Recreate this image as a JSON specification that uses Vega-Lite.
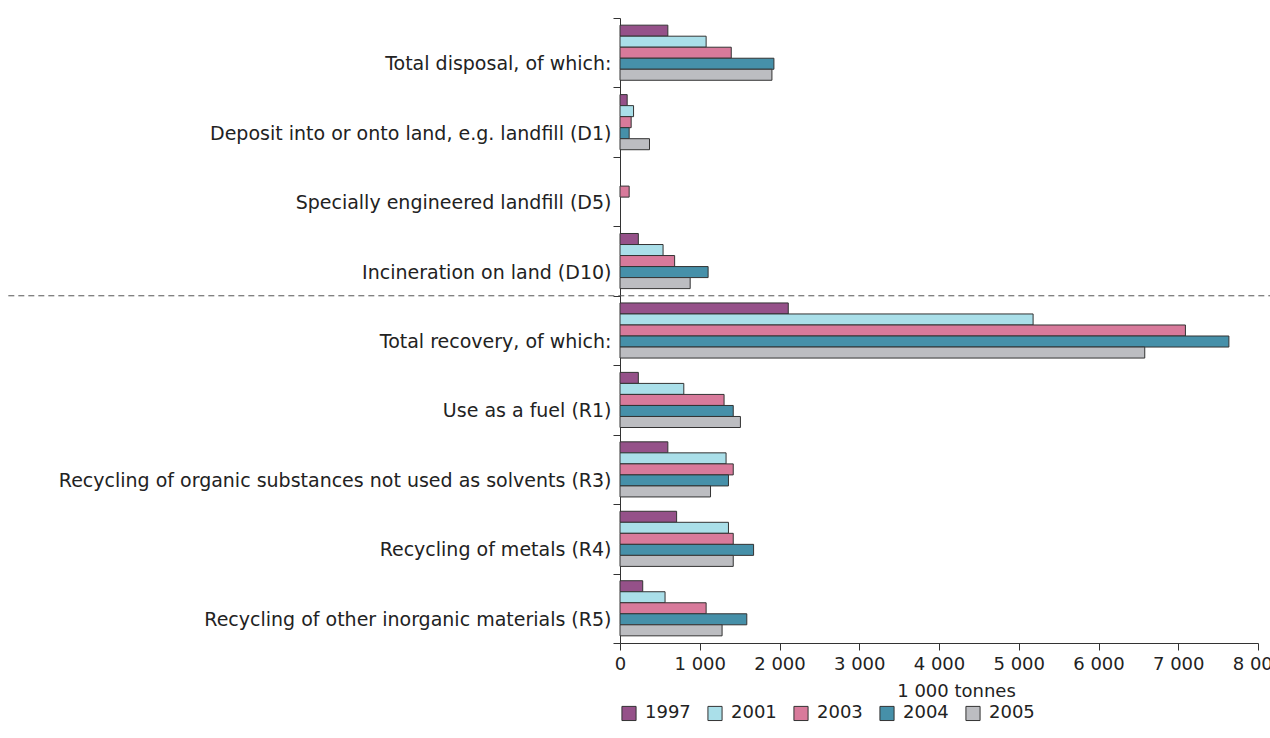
{
  "$schema": "https://vega.github.io/schema/vega-lite/v6.json",
  "width": 638,
  "height": 625,
  "autosize": {"type": "none"},
  "padding": {"left": 620, "top": 18, "right": 12, "bottom": 95},
  "background": "white",
  "config": {
    "font": "DejaVu Sans",
    "view": {"stroke": null},
    "axis": {"grid": false, "domainColor": "#333", "tickColor": "#333", "labelColor": "#222", "titleColor": "#222", "labelFontSize": 18, "titleFontSize": 18, "titleFontWeight": "normal"}
  },
  "datasets": {
    "main": [
      {"category": "Total disposal, of which:", "year": "1997", "value": 600},
      {"category": "Total disposal, of which:", "year": "2001", "value": 1080},
      {"category": "Total disposal, of which:", "year": "2003", "value": 1395},
      {"category": "Total disposal, of which:", "year": "2004", "value": 1930},
      {"category": "Total disposal, of which:", "year": "2005", "value": 1905},
      {"category": "Deposit into or onto land, e.g. landfill (D1)", "year": "1997", "value": 90},
      {"category": "Deposit into or onto land, e.g. landfill (D1)", "year": "2001", "value": 170},
      {"category": "Deposit into or onto land, e.g. landfill (D1)", "year": "2003", "value": 140},
      {"category": "Deposit into or onto land, e.g. landfill (D1)", "year": "2004", "value": 115},
      {"category": "Deposit into or onto land, e.g. landfill (D1)", "year": "2005", "value": 370},
      {"category": "Specially engineered landfill (D5)", "year": "2003", "value": 115},
      {"category": "Incineration on land (D10)", "year": "1997", "value": 230},
      {"category": "Incineration on land (D10)", "year": "2001", "value": 540},
      {"category": "Incineration on land (D10)", "year": "2003", "value": 685},
      {"category": "Incineration on land (D10)", "year": "2004", "value": 1105},
      {"category": "Incineration on land (D10)", "year": "2005", "value": 880},
      {"category": "Total recovery, of which:", "year": "1997", "value": 2110},
      {"category": "Total recovery, of which:", "year": "2001", "value": 5180},
      {"category": "Total recovery, of which:", "year": "2003", "value": 7090},
      {"category": "Total recovery, of which:", "year": "2004", "value": 7635},
      {"category": "Total recovery, of which:", "year": "2005", "value": 6580},
      {"category": "Use as a fuel (R1)", "year": "1997", "value": 230},
      {"category": "Use as a fuel (R1)", "year": "2001", "value": 800},
      {"category": "Use as a fuel (R1)", "year": "2003", "value": 1305},
      {"category": "Use as a fuel (R1)", "year": "2004", "value": 1420},
      {"category": "Use as a fuel (R1)", "year": "2005", "value": 1510},
      {"category": "Recycling of organic substances not used as solvents (R3)", "year": "1997", "value": 600},
      {"category": "Recycling of organic substances not used as solvents (R3)", "year": "2001", "value": 1330},
      {"category": "Recycling of organic substances not used as solvents (R3)", "year": "2003", "value": 1420},
      {"category": "Recycling of organic substances not used as solvents (R3)", "year": "2004", "value": 1360},
      {"category": "Recycling of organic substances not used as solvents (R3)", "year": "2005", "value": 1135},
      {"category": "Recycling of metals (R4)", "year": "1997", "value": 710},
      {"category": "Recycling of metals (R4)", "year": "2001", "value": 1360},
      {"category": "Recycling of metals (R4)", "year": "2003", "value": 1420},
      {"category": "Recycling of metals (R4)", "year": "2004", "value": 1675},
      {"category": "Recycling of metals (R4)", "year": "2005", "value": 1420},
      {"category": "Recycling of other inorganic materials (R5)", "year": "1997", "value": 285},
      {"category": "Recycling of other inorganic materials (R5)", "year": "2001", "value": 565},
      {"category": "Recycling of other inorganic materials (R5)", "year": "2003", "value": 1080},
      {"category": "Recycling of other inorganic materials (R5)", "year": "2004", "value": 1590},
      {"category": "Recycling of other inorganic materials (R5)", "year": "2005", "value": 1280}
    ]
  },
  "layer": [
    {
      "data": {"name": "main"},
      "mark": {"type": "bar", "stroke": "#333", "strokeWidth": 1},
      "encoding": {
        "y": {
          "field": "category", "type": "nominal",
          "sort": ["Total disposal, of which:", "Deposit into or onto land, e.g. landfill (D1)", "Specially engineered landfill (D5)", "Incineration on land (D10)", "Total recovery, of which:", "Use as a fuel (R1)", "Recycling of organic substances not used as solvents (R3)", "Recycling of metals (R4)", "Recycling of other inorganic materials (R5)"],
          "scale": {"paddingInner": 0, "paddingOuter": 0},
          "axis": {"title": null, "tickBand": "extent", "labelOffset": 11, "tickSize": 7, "labelPadding": 2, "labelLimit": 700, "labelFontSize": 19}
        },
        "x": {
          "field": "value", "type": "quantitative",
          "scale": {"domain": [0, 8000], "nice": false},
          "axis": {"title": "1 000 tonnes", "titleX": 336, "values": [0, 1000, 2000, 3000, 4000, 5000, 6000, 7000, 8000], "labelExpr": "replace(format(datum.value, ','), ',', ' ')", "tickSize": 7, "labelPadding": 5, "titlePadding": 9, "labelFlush": false, "labelOverlap": false}
        },
        "yOffset": {"field": "year", "type": "nominal", "scale": {"paddingInner": 0, "paddingOuter": 0.65}},
        "color": {
          "field": "year", "type": "nominal",
          "scale": {"domain": ["1997", "2001", "2003", "2004", "2005"], "range": ["#955189", "#aadfe9", "#d87a9b", "#4690a9", "#bcbdc1"]},
          "legend": {"title": null, "orient": "bottom", "direction": "horizontal", "symbolType": "square", "symbolSize": 200, "symbolStrokeColor": "#333", "symbolStrokeWidth": 1, "symbolOpacity": 1, "labelFontSize": 18, "labelColor": "#222", "columnPadding": 14, "labelOffset": 7, "offset": 4}
        }
      }
    },
    {
      "data": {"values": [{}]},
      "mark": {"type": "rule", "strokeDash": [6, 4], "color": "#555", "strokeWidth": 1},
      "encoding": {
        "y": {"datum": "Total recovery, of which:", "type": "nominal", "bandPosition": 0},
        "x": {"datum": -7670, "type": "quantitative"},
        "x2": {"datum": 8200}
      }
    }
  ]
}
